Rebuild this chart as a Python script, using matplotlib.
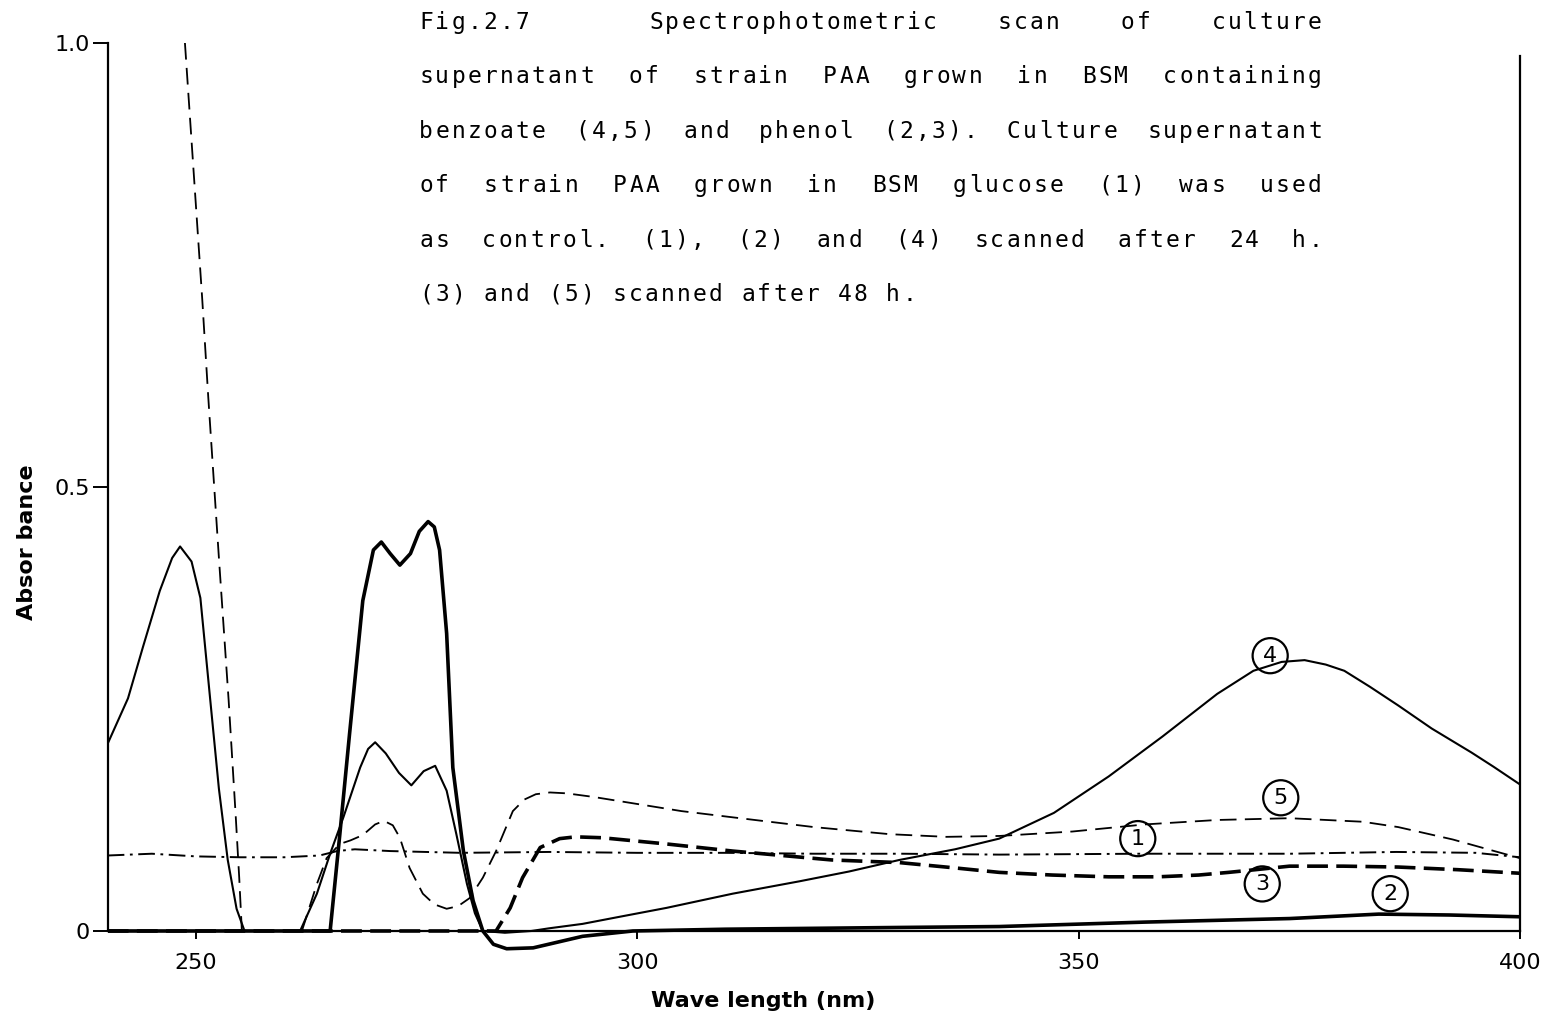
import matplotlib
matplotlib.use("Agg")
import matplotlib.pyplot as plt

plt.rcParams["lines.scale_dashes"] = False
plt.rcParams["font.family"] = ["DejaVu Sans"]

# ---- spectra: wavelength (nm) and absorbance for each culture supernatant ----
# (1) control, BSM glucose, 24 h  (dash-dot)
wl_1 = [240, 245, 250, 255, 260, 264, 266, 268, 272, 280, 290, 300, 310, 320,
        330, 341, 357, 374, 386, 395, 400]
ab_1 = [0.085, 0.087, 0.084, 0.083, 0.083, 0.085, 0.090, 0.092, 0.090, 0.088,
        0.089, 0.088, 0.088, 0.087, 0.087, 0.086, 0.087, 0.087, 0.089, 0.088, 0.083]

# (2) phenol, 24 h  (thick solid)
wl_2 = [240, 265.2, 266.3, 267.4, 268.9, 270.1, 271.0, 272.0, 273.1, 274.3,
        275.3, 276.3, 277.0, 277.6, 278.4, 279.1, 280.3, 281.4, 282.5, 283.7,
        285.2, 288.2, 293.8, 299.5, 310, 330, 341, 357.5, 373.9, 384, 392, 400]
ab_2 = [0.0, 0.0, 0.109, 0.222, 0.372, 0.429, 0.438, 0.425, 0.412, 0.425,
        0.450, 0.461, 0.455, 0.429, 0.335, 0.184, 0.090, 0.034, 0.0, -0.015,
        -0.020, -0.019, -0.006, 0.0, 0.002, 0.004, 0.005, 0.010, 0.014, 0.019,
        0.018, 0.016]

# (3) phenol, 48 h  (thick dashed)
wl_3 = [240, 284, 285.6, 287, 289, 291.2, 293, 296, 303.3, 310.8, 322, 329.7,
        336, 341, 347, 353.4, 359, 363.6, 367, 370, 373.9, 380, 386.2, 393, 400]
ab_3 = [0.0, 0.0, 0.026, 0.060, 0.094, 0.104, 0.106, 0.105, 0.098, 0.090,
        0.080, 0.077, 0.071, 0.066, 0.063, 0.061, 0.061, 0.063, 0.066, 0.069,
        0.073, 0.073, 0.072, 0.069, 0.065]

# (4) benzoate, 24 h  (thin solid)
wl_4 = [240, 242.3, 244, 245.9, 247.3, 248.2, 249.5, 250.5, 251.6, 252.6,
        253.6, 254.6, 255.5, 261.8, 263.7, 265.2, 266.7, 268.6, 269.5, 270.3,
        271.5, 273, 274.4, 275.8, 277.1, 278.4, 279.5, 280.7, 281.6, 282.5,
        285, 288, 290, 293.8, 298, 303.3, 310.8, 318.4, 324, 329.7, 336, 341,
        347.2, 353.4, 359.5, 365.7, 369.8, 373, 375.6, 378, 380.1, 383, 386.2,
        390, 394.5, 397, 400]
ab_4 = [0.211, 0.262, 0.320, 0.383, 0.420, 0.433, 0.416, 0.375, 0.262, 0.160,
        0.080, 0.025, 0.0, 0.0, 0.042, 0.087, 0.128, 0.184, 0.205, 0.2125,
        0.200, 0.178, 0.164, 0.180, 0.186, 0.158, 0.109, 0.053, 0.020, 0.0,
        -0.002, 0.0, 0.003, 0.008, 0.016, 0.026, 0.042, 0.056, 0.067, 0.080,
        0.092, 0.104, 0.133, 0.174, 0.219, 0.267, 0.293, 0.303, 0.305, 0.300,
        0.293, 0.275, 0.254, 0.228, 0.201, 0.185, 0.165]

# (5) benzoate, 48 h  (thin dashed)
wl_5 = [248.75, 250.7, 251.4, 252.6, 253.7, 254.5, 254.9, 255.2, 262.0, 263.7,
        264.8, 266.3, 267.5, 268.9, 270.3, 271.3, 272.3, 273.1, 274.2, 275.7,
        277, 278.4, 279.7, 281, 282.5, 284, 285.9, 287.2, 288.5, 290.1, 292,
        295, 300, 305, 310.8, 320, 328.6, 335, 341, 349.3, 357.5, 365.7, 373.9,
        382.2, 386.2, 392.4, 396, 400]
ab_5 = [1.0, 0.713, 0.600, 0.420, 0.260, 0.130, 0.060, 0.0, 0.0, 0.053,
        0.082, 0.098, 0.102, 0.108, 0.120, 0.124, 0.119, 0.105, 0.071, 0.042,
        0.030, 0.025, 0.028, 0.037, 0.060, 0.090, 0.135, 0.148, 0.154, 0.156,
        0.155, 0.151, 0.143, 0.135, 0.128, 0.117, 0.109, 0.106, 0.107, 0.112,
        0.120, 0.125, 0.127, 0.123, 0.117, 0.103, 0.093, 0.082]

# curve identifiers and where they are written
curve_ids = ["4", "5", "1", "3", "2"]
id_wl = [371.7, 372.9, 356.7, 370.8, 385.3]
id_ab = [0.310, 0.150, 0.104, 0.053, 0.042]

x_ticks = [250, 300, 350, 400]
y_ticks = [0, 0.5, 1.0]
y_ticklabels = ["0", "0.5", "1.0"]

caption_lines = [
    "Fig.2.7 Spectrophotometric scan of culture",
    "supernatant of strain PAA grown in BSM containing",
    "benzoate (4,5) and phenol (2,3). Culture supernatant",
    "of strain PAA grown in BSM glucose (1) was used",
    "as control. (1), (2) and (4) scanned after 24 h.",
    "(3) and (5) scanned after 48 h.",
]

# ---- figure ----
W, H = 1560, 1024
fig = plt.figure(figsize=(W / 100, H / 100), dpi=100)
ax = fig.add_axes([0.06904, 0.05615, 0.9053, 0.9019])
ax.set_xlim(240, 400)
ax.set_ylim(-0.04, 1.0)

ax.plot(wl_1, ab_1, color="black", lw=1.4, dashes=[12, 4, 2, 4])
ax.plot(wl_5, ab_5, color="black", lw=1.3, dashes=[12, 6])
ax.plot(wl_3, ab_3, color="black", lw=2.6, dashes=[15, 6])
ax.plot(wl_4, ab_4, color="black", lw=1.5)
ax.plot(wl_2, ab_2, color="black", lw=2.6)

for cid, xw, ya in zip(curve_ids, id_wl, id_ab):
    ax.text(xw, ya, cid, ha="center", va="center", fontsize=16,
            bbox=dict(boxstyle="circle,pad=0.34", fc="none", ec="black", lw=1.6))

# axes frame: no top, bottom axis at zero absorbance
ax.spines["top"].set_visible(False)
ax.spines["bottom"].set_position(("data", 0))
ax.spines["left"].set_bounds(0, 1.0)
ax.spines["right"].set_bounds(0, 0.985)
for s in ("left", "right", "bottom"):
    ax.spines[s].set_linewidth(1.6)

ax.set_xticks(x_ticks)
ax.set_xticklabels([str(v) for v in x_ticks])
ax.set_yticks(y_ticks)
ax.set_yticklabels(y_ticklabels)
ax.tick_params(axis="x", direction="out", length=6, width=1.4, pad=10,
               labelsize=16)
ax.tick_params(axis="y", direction="out", length=11, width=1.4, pad=2,
               labelsize=16)

fig.text(27 / W, 1 - 542 / H, "Absor bance", rotation=90, ha="center",
         va="center", fontsize=16, fontweight="bold")
fig.text(763 / W, 1 - 1001 / H, "Wave length (nm)", ha="center", va="center",
         fontsize=16, fontweight="bold")

# ---- typed caption, fixed pitch, justified between two margins ----
x_left, x_right = 418, 1323
pitch = 16.1
first_baseline, line_step = 29, 54.4


def type_word(word, x0, y_base):
    for i, ch in enumerate(word):
        fig.text((x0 + (i + 0.5) * pitch) / W, 1 - y_base / H, ch,
                 ha="center", va="baseline", fontsize=16.5,
                 family="DejaVu Sans Mono")


for k, line in enumerate(caption_lines):
    y_base = first_baseline + k * line_step
    words = line.split(" ")
    if k == len(caption_lines) - 1:
        x = x_left
        for w in words:
            type_word(w, x, y_base)
            x += (len(w) + 1) * pitch
        continue
    weights = [1.0] * (len(words) - 1)
    if k == 0:
        weights[0] = 2.0
    free = (x_right - x_left) - pitch * sum(len(w) for w in words)
    unit = free / sum(weights)
    x = x_left
    for j, w in enumerate(words):
        type_word(w, x, y_base)
        if j < len(weights):
            x += len(w) * pitch + weights[j] * unit

fig.savefig("out.png", dpi=100)
